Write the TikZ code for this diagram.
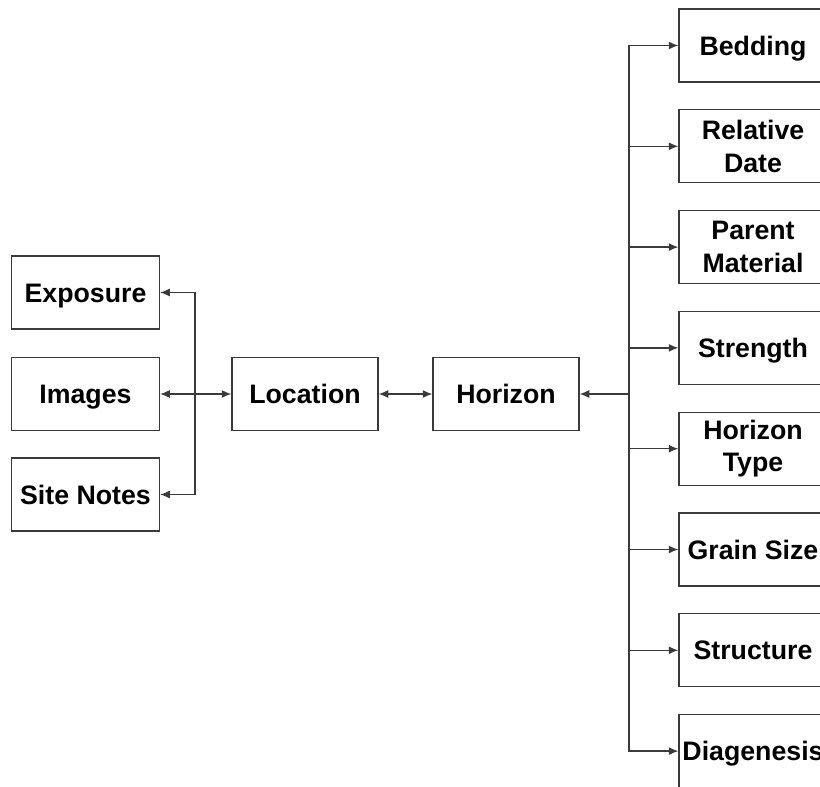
\documentclass[tikz,border=0pt]{standalone}
\usepackage{fontspec}
\setmainfont{Liberation Sans}
\usetikzlibrary{arrows.meta}
\definecolor{edge}{HTML}{3A3A3A}

\begin{document}
\begin{tikzpicture}[x=0.025cm,y=-0.025cm,
    >={Latex[length=2.4mm,width=2mm]},
    font=\bfseries\fontsize{19}{23}\selectfont,
    box/.style={draw=edge,line width=0.9pt,minimum width=3.7cm,
      minimum height=1.825cm,inner sep=1pt},
    one/.style={text height=18pt,text depth=4.4pt},
    two/.style={align=center},
    link/.style={edge,line width=0.9pt}]
  \useasboundingbox (0,0) rectangle (820,787);
  \clip (0,0) rectangle (820,787);

  % left column
  \node[box,one] (expo)   at (85.5,292.5) {Exposure};
  \node[box,one] (images) at (85.5,394)   {Images};
  \node[box,one] (notes)  at (85.5,494.5) {Site Notes};

  \node[box,one,minimum width=3.65cm] (loc) at (305,394) {Location};
  \node[box,one,minimum width=3.65cm] (hor) at (506,394) {Horizon};

  % right column
  \foreach \n/\txt/\st [count=\i from 0] in {bed/Bedding/one,
      rdate/Relative\\Date/two,parent/Parent\\Material/two,
      strength/Strength/one,htype/Horizon\\Type/two,grain/Grain Size/one,
      struct/Structure/one,diag/Diagenesis/one} {
    \node[box,\st] (\n) at (753,45.5+100.8*\i) {\txt};
  }

  \coordinate (ljoin) at (195,394);
  \coordinate (rjoin) at (629,394);

  \draw[link,<->] (images) -- (loc);
  \draw[link,->] (ljoin) |- (expo);
  \draw[link,->] (ljoin) |- (notes);
  \draw[link,<->] (loc) -- (hor);

  \draw[link,->] (rjoin) -- (hor);
  \foreach \n in {bed,rdate,parent,strength,htype,grain,struct,diag} {
    \draw[link,->] (rjoin) |- (\n);
  }
\end{tikzpicture}
\end{document}
